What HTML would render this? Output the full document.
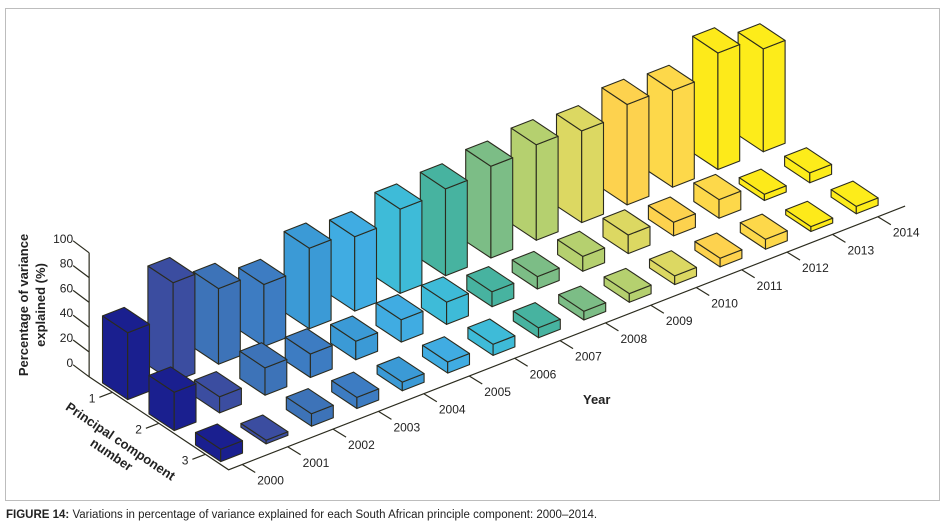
<!DOCTYPE html>
<html><head><meta charset="utf-8"><style>
body{margin:0;background:#fff;width:946px;height:529px;overflow:hidden;font-family:"Liberation Sans",sans-serif}
#frame{position:absolute;left:5px;top:8px;width:933px;height:491px;border:1px solid #bdbdbd}
#cap{position:absolute;left:6px;top:509px;font-size:11.5px;color:#222}
svg{position:absolute;left:0;top:0}
</style></head><body>
<div id="frame"></div>
<svg id="chart" width="946" height="529"></svg>
<div id="cap"><b>FIGURE 14:</b> Variations in percentage of variance explained for each South African principle component: 2000–2014.</div>
<script>
const years = [2000,2001,2002,2003,2004,2005,2006,2007,2008,2009,2010,2011,2012,2013,2014];
const pc1 = [54,80,61,50,65,60,68,70,74,77,74,81,78,94,83];
const pc2 = [31,13,22,19,15,18,18,12,10,12,15,11,15,5,8];
const pc3 = [10,3,10,9,7,9,9,8,7,7,7,7,8,4,6];
const zTicks = [0,20,40,60,80,100];
const pcLabels = [1,2,3];
const yearColors = ['#1a1f8f','#3b4da0','#3d73b8','#3d7cc2','#3b9ad6','#40ace2','#3ebbd8','#47b3a0','#7cbd86','#b5d06f','#dcd862','#fdd24e','#fdd84a','#fdea1a','#fdec1a'];

const NS='http://www.w3.org/2000/svg';
const svg=document.getElementById('chart');
function P(y,p,z){return [126+y*45.4+(p-1)*46.5, 387-y*17.7+(p-1)*31-z*1.24];}
function mk(tag,attrs,parent){const e=document.createElementNS(NS,tag);for(const k in attrs)e.setAttribute(k,attrs[k]);(parent||svg).appendChild(e);return e;}
function pts(a){return a.map(q=>q[0].toFixed(1)+','+q[1].toFixed(1)).join(' ');}
const ink='#2b2b1e';

// axes
const axes=mk('g',{});


let b=P(-0.3,0.5,0),t=P(-0.3,0.5,100);
mk('line',{x1:b[0],y1:b[1],x2:t[0],y2:t[1],stroke:ink,'stroke-width':1.2},axes);
zTicks.forEach(v=>{
  const a=P(-0.3,0.5,v);
  mk('line',{x1:a[0],y1:a[1],x2:a[0]-16,y2:a[1]-12,stroke:ink,'stroke-width':1.2},axes);
  const tx=mk('text',{x:a[0]-16,y:a[1]-10,'text-anchor':'end','font-size':12,fill:'#222'},axes);
  tx.textContent=v;
  
  
});
const c=P(-0.3,3.5,0),e=P(14.6,3.5,0);
mk('polyline',{points:pts([b,c,e]),fill:'none',stroke:ink,'stroke-width':1.2},axes);
pcLabels.forEach(p=>{
  const a=P(-0.3,p,0);
  mk('line',{x1:a[0],y1:a[1],x2:a[0]-13,y2:a[1]+5,stroke:ink,'stroke-width':1.2},axes);
  const tx=mk('text',{x:a[0]-17,y:a[1]+10,'text-anchor':'end','font-size':12,fill:'#222'},axes);
  tx.textContent=p;
  
  
});
years.forEach((yr,i)=>{
  const a=P(i,3.5,0);
  mk('line',{x1:a[0],y1:a[1],x2:a[0]+13,y2:a[1]+8,stroke:ink,'stroke-width':1.2},axes);
  const tx=mk('text',{x:a[0]+15,y:a[1]+20,'font-size':12,fill:'#222'},axes);
  tx.textContent=yr;
  
  
});

// bars
const series=[pc1,pc2,pc3];
const list=[];
series.forEach((arr,pi)=>arr.forEach((v,yi)=>list.push({y:yi,p:pi+1,v:v})));
list.sort((a,b)=>P(a.y,a.p,0)[1]-P(b.y,b.p,0)[1]);
const hw=0.24,hp=0.27;
list.forEach(d=>{
  const g=mk('g',{fill:yearColors[d.y],stroke:ink,'stroke-width':1.1,'stroke-linejoin':'round'});
  
  
  const y0=d.y-hw,y1=d.y+hw,p0=d.p-hp,p1=d.p+hp;
  mk('polygon',{points:pts([P(y0,p0,0),P(y0,p1,0),P(y0,p1,d.v),P(y0,p0,d.v)])},g);
  mk('polygon',{points:pts([P(y0,p1,0),P(y1,p1,0),P(y1,p1,d.v),P(y0,p1,d.v)])},g);
  mk('polygon',{points:pts([P(y0,p0,d.v),P(y1,p0,d.v),P(y1,p1,d.v),P(y0,p1,d.v)])},g);
});

// titles
let tt=mk('text',{x:0,y:0,'font-size':13,'font-weight':'bold',fill:'#222','text-anchor':'middle',transform:'translate(30,305) rotate(-90)'});


mk('tspan',{x:0,dy:-2},tt).textContent='Percentage of variance';
mk('tspan',{x:0,dy:17},tt).textContent='explained (%)';
let ty=mk('text',{x:583,y:404,'font-size':13,'font-weight':'bold',fill:'#222'});
ty.textContent='Year';


let tp=mk('text',{x:0,y:0,'font-size':13,'font-weight':'bold',fill:'#222','text-anchor':'middle',transform:'translate(118,445) rotate(34)'});


mk('tspan',{x:0,dy:0},tp).textContent='Principal component';
mk('tspan',{x:0,dy:16},tp).textContent='number';
</script>
</body></html>
